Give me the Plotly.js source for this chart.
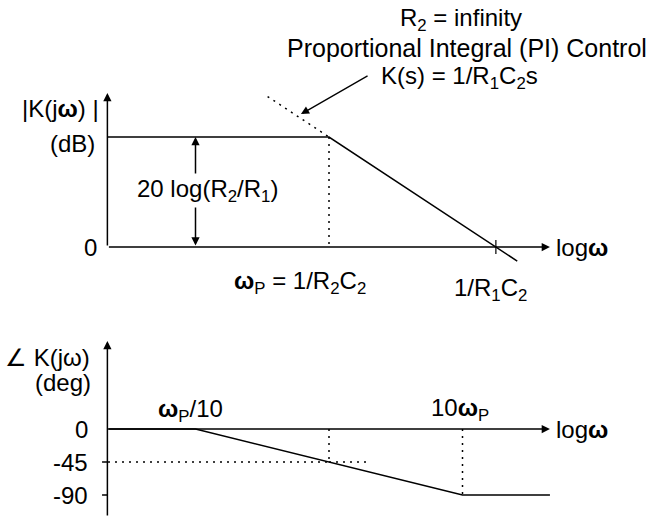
<!DOCTYPE html>
<html>
<head>
<meta charset="utf-8">
<script src="https://cdn.plot.ly/plotly-3.0.1.min.js"></script>
<style>html,body{margin:0;padding:0;background:#fff;}#chart{width:655px;height:519px;}</style>
</head>
<body>
<div id="chart"></div>
<script>
// ---- Data (x in decades of log10(w / wP)) ----
const magX = [-1.66, 0, 1.41];          // magnitude asymptote breakpoints
const magDB = [25, 25, -3.2];           // dB values
const piX = [-0.46, 0];                 // dotted PI (R2 = infinity) extension
const piDB = [34.2, 25];
const phaseX = [-1.66, -1, 1, 1.655];   // phase asymptote breakpoints
const phaseDeg = [0, 0, -90, -90];
const wPX = 0;                           // wP
const crossX = 1.25;                     // 1/R1C2
const phaseTicks = [0, -45, -90];
const phaseTickLabels = ['0', '-45', '-90'];
const axisStartX = -1.66;
const axisEndX = 1.655;
const magAxisTop = 35;
const phaseAxisTop = 120, phaseAxisBottom = -120;

const FONT = 'Liberation Sans, Arial, sans-serif';
const FS = 24;
const W = 655, H = 519;
function P(px, py) { return {x: px / W, y: 1 - py / H}; }

const blk = 'black';
const traces = [
  {x: magX, y: magDB, xaxis: 'x', yaxis: 'y', mode: 'lines', line: {color: blk, width: 1.5}},
  {x: piX, y: piDB, xaxis: 'x', yaxis: 'y', mode: 'lines', line: {color: blk, width: 1.5, dash: '2px,5px'}},
  {x: [wPX, wPX], y: [magDB[1], 0], xaxis: 'x', yaxis: 'y', mode: 'lines', line: {color: blk, width: 1.5, dash: '2px,5px'}},
  {x: [crossX, crossX], y: [1.6, -1.6], xaxis: 'x', yaxis: 'y', mode: 'lines', line: {color: blk, width: 1.2}},
  {x: phaseX, y: phaseDeg, xaxis: 'x', yaxis: 'y2', mode: 'lines', line: {color: blk, width: 1.5}},
  {x: [wPX, wPX, axisStartX], y: [0, -45, -45], xaxis: 'x', yaxis: 'y2', mode: 'lines', line: {color: blk, width: 1.5, dash: '2px,5px'}},
  {x: [wPX, 0.29], y: [-45, -45], xaxis: 'x', yaxis: 'y2', mode: 'lines', line: {color: blk, width: 1.5, dash: '2px,5px'}},
  {x: [phaseX[2], phaseX[2]], y: [0, -90], xaxis: 'x', yaxis: 'y2', mode: 'lines', line: {color: blk, width: 1.5, dash: '2px,5px'}}
];
// phase tick marks
phaseTicks.slice(1).forEach(v => {
  traces.push({x: [axisStartX - 0.04, axisStartX], y: [v, v], xaxis: 'x', yaxis: 'y2', mode: 'lines', line: {color: blk, width: 1.5}});
});
traces.forEach(t => { t.hoverinfo = 'skip'; t.showlegend = false; });

function arrow(x, y, ax, ay, yref, extra) {
  return Object.assign({x: x, y: y, ax: ax, ay: ay, xref: 'x', yref: yref, axref: 'x', ayref: yref,
    text: '', showarrow: true, arrowhead: 2, arrowsize: 1.1, arrowwidth: 1.5, arrowcolor: blk, standoff: 0, startstandoff: 0}, extra || {});
}
function label(text, px, py, xa, extra) {
  const p = P(px, py);
  return Object.assign({x: p.x, y: p.y, xref: 'paper', yref: 'paper', text: text, showarrow: false,
    xanchor: xa || 'center', yanchor: 'middle', font: {family: FONT, size: FS, color: blk}}, extra || {});
}

const annotations = [
  // axes with arrowheads
  arrow(axisStartX, magAxisTop, axisStartX, 0, 'y'),
  arrow(axisEndX, 0, axisStartX, 0, 'y'),
  arrow(axisStartX, phaseAxisTop, axisStartX, phaseAxisBottom, 'y2'),
  arrow(axisEndX, 0, axisStartX, 0, 'y2'),
  // double arrow 20 log(R2/R1)
  arrow(-1, magDB[0], -1, 0, 'y', {arrowside: 'end+start'}),
  label('20 log(R<sub>2</sub>/R<sub>1</sub>)', 207, 190, 'center', {bgcolor: 'white', borderpad: 1}),
  // pointer to PI line
  arrow(-0.21, 30.2, 0.30, 39.1, 'y', {arrowwidth: 1.3, arrowsize: 1.25}),
  // texts
  label('R<sub>2</sub> = infinity', 461, 19),
  label('Proportional Integral (PI) Control', 467, 48, 'center', {font: {family: FONT, size: 25, color: blk}}),
  label('K(s) = 1/R<sub>1</sub>C<sub>2</sub>s', 460, 77),
  label('|K(j<b>ω</b>) |', 101, 108, 'right'),
  label('(dB)', 97, 144, 'right'),
  label('0', 99, 247, 'right'),
  label('log<b>ω</b>', 554, 247, 'left'),
  label('<b>ω</b><sub>P</sub> = 1/R<sub>2</sub>C<sub>2</sub>', 300, 282),
  label('1/R<sub>1</sub>C<sub>2</sub>', 490, 289),
  label('∠ K(jω)', 92, 357, 'right'),
  label('(deg)', 93, 382, 'right'),
  label('<b>ω</b><sub>P</sub>/10', 190, 410),
  label('10<b>ω</b><sub>P</sub>', 460, 409),
  label('log<b>ω</b>', 554, 429, 'left')
];
const tickPx = [429, 462, 495];
phaseTickLabels.forEach((t, i) => annotations.push(label(t, 90, tickPx[i], 'right')));

// scales: x px = 329 + 133.5*d ; top y px = 247 - 4.4*dB ; bottom y px = 429 - 0.7333*deg
const layout = {
  width: W, height: H, margin: {l: 0, r: 0, t: 0, b: 0},
  paper_bgcolor: 'white', plot_bgcolor: 'white', showlegend: false,
  xaxis: {range: [-329 / 133.5, (W - 329) / 133.5], visible: false, domain: [0, 1], fixedrange: true},
  yaxis: {range: [(247 - H) / 4.4, 247 / 4.4], visible: false, domain: [0, 1], fixedrange: true},
  yaxis2: {range: [(429 - H) / 0.73333, 429 / 0.73333], visible: false, overlaying: 'y', fixedrange: true},
  annotations: annotations,
  font: {family: FONT, size: FS, color: blk}
};
Plotly.newPlot('chart', traces, layout, {staticPlot: true, displayModeBar: false});
</script>
</body>
</html>
